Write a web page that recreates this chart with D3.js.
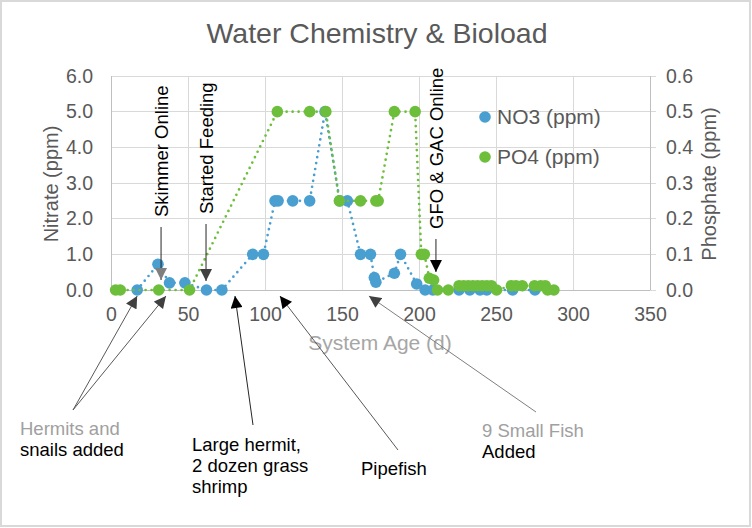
<!DOCTYPE html>
<html><head><meta charset="utf-8">
<script src="https://cdn.jsdelivr.net/npm/d3@7"></script>
<style>body{margin:0;background:#fff}svg{display:block;font-family:"Liberation Sans",Arial,sans-serif}</style>
</head><body>
<script>
// ---- data ----
const no3Days   = [17, 30.5, 38, 48, 62, 72, 92, 99, 106.5, 108.5, 118, 129, 139, 148.5, 153.5, 162, 168.5, 171, 172, 184, 188, 198.5, 204, 209, 226, 233, 239.6, 244, 260.8, 275.3];
const no3Values = [0, 0.72, 0.2, 0.2, 0, 0, 1.0, 1.0, 2.5, 2.5, 2.5, 2.5, 5.0, 2.5, 2.5, 1.0, 1.0, 0.35, 0.22, 0.47, 1.0, 0.17, 0, 0, 0, 0, 0, 0, 0, 0];
const po4Days   = [3, 6, 31, 51, 108, 129, 139.5, 148.3, 162, 172, 173.5, 184, 197.5, 201.5, 203.5, 206.7, 209.5, 212, 219, 226, 229, 232, 235, 238, 241, 244, 247, 250.4, 260, 263, 267, 275, 279, 282, 283.5, 287.6];
const po4Values = [0, 0, 0, 0, 0.5, 0.5, 0.5, 0.25, 0.25, 0.25, 0.25, 0.5, 0.5, 0.1, 0.1, 0.033, 0.028, 0, 0, 0.012, 0.012, 0.012, 0.012, 0.012, 0.012, 0.012, 0.012, 0, 0.012, 0.012, 0.012, 0.012, 0.012, 0.012, 0, 0];
const xTicks = [0, 50, 100, 150, 200, 250, 300, 350];
const nitrateTicks = [0, 1, 2, 3, 4, 5, 6];
const phosphateTicks = [0, 0.1, 0.2, 0.3, 0.4, 0.5, 0.6];
const seriesNames = ["NO3 (ppm)", "PO4 (ppm)"];
const titleText = "Water Chemistry & Bioload";
const xTitle = "System Age (d)", yLeftTitle = "Nitrate (ppm)", yRightTitle = "Phosphate (ppm)";
const topEventLabels = ["Skimmer Online", "Started Feeding", "GFO & GAC Online"];
const topEventDays = [32.5, 61.7, 211];
const bottomEventLabels = [["Hermits and", "snails added"], ["Large hermit,", "2 dozen grass", "shrimp"], ["Pipefish"], ["9 Small Fish", "Added"]];
const bottomEventDays = [[17, 35.7], [80.5], [109.7], [167.5]];

// ---- layout ----
const W = 752, H = 528;
const blue = "#4A9FD1", green = "#6DBF3B", grid = "#d9d9d9", txt = "#595959";
const svg = d3.select("body").append("svg").attr("width", W).attr("height", H);
svg.append("rect").attr("x", 1).attr("y", 1).attr("width", W - 3).attr("height", H - 3)
  .attr("fill", "#fff").attr("stroke", "#d9d9d9").attr("stroke-width", 2);

const x = d3.scaleLinear().domain([0, 350]).range([111, 650]);
const yL = d3.scaleLinear().domain([0, 6]).range([290, 76]);
const yR = d3.scaleLinear().domain([0, 0.6]).range([290, 76]);

const defs = svg.append("defs");
function mk(id, color) {
  defs.append("marker").attr("id", id).attr("viewBox", "0 0 10 10").attr("refX", 10).attr("refY", 5)
    .attr("markerWidth", 13).attr("markerHeight", 12).attr("markerUnits", "userSpaceOnUse").attr("orient", "auto")
    .append("path").attr("d", "M0,0L10,5L0,10z").attr("fill", color);
}
mk("ahBlack", "#000"); mk("ahGray", "#7f7f7f"); mk("ahDark", "#404040");

// gridlines
svg.append("g").selectAll("line").data(nitrateTicks).join("line")
  .attr("x1", 111).attr("x2", 656).attr("y1", d => yL(d)).attr("y2", d => yL(d))
  .attr("stroke", grid).attr("stroke-width", 1).attr("shape-rendering", "crispEdges");
svg.append("g").selectAll("line").data(xTicks).join("line")
  .attr("x1", d => x(d)).attr("x2", d => x(d)).attr("y1", 76).attr("y2", 290)
  .attr("stroke", grid).attr("stroke-width", 1).attr("shape-rendering", "crispEdges");
svg.append("line").attr("x1", 111).attr("x2", 111).attr("y1", 76).attr("y2", 290).attr("stroke", "#bfbfbf").attr("shape-rendering", "crispEdges");
svg.append("line").attr("x1", 650).attr("x2", 650).attr("y1", 76).attr("y2", 290).attr("stroke", "#bfbfbf").attr("shape-rendering", "crispEdges");
svg.append("line").attr("x1", 111).attr("x2", 650).attr("y1", 290).attr("y2", 290).attr("stroke", "#bfbfbf").attr("shape-rendering", "crispEdges");

// axes
function styleAxis(g) { g.select(".domain").remove(); g.selectAll("line").remove();
  g.selectAll("text").attr("fill", txt).attr("font-size", 19.5).attr("font-family", '"Liberation Sans",Arial,sans-serif'); }
svg.append("g").attr("transform", "translate(111,0)")
  .call(d3.axisLeft(yL).tickValues(nitrateTicks).tickSize(0).tickPadding(18).tickFormat(d3.format(".1f"))).call(styleAxis);
svg.append("g").attr("transform", "translate(650,0)")
  .call(d3.axisRight(yR).tickValues(phosphateTicks).tickSize(0).tickPadding(16).tickFormat(d3.format(".1f"))).call(styleAxis);
svg.append("g").attr("transform", "translate(0,290)")
  .call(d3.axisBottom(x).tickValues(xTicks).tickSize(0).tickPadding(17).tickFormat(d3.format("d"))).call(styleAxis);

// titles
svg.append("text").attr("x", 377).attr("y", 43).attr("text-anchor", "middle").attr("font-size", 28.5).attr("fill", txt).text(titleText);
svg.append("text").attr("x", 380).attr("y", 350).attr("text-anchor", "middle").attr("font-size", 21).attr("fill", "#a6a6a6").text(xTitle);
svg.append("text").attr("transform", "translate(57.5,184) rotate(-90)").attr("text-anchor", "middle").attr("font-size", 20).attr("fill", txt).text(yLeftTitle);
svg.append("text").attr("transform", "translate(716,184) rotate(-90)").attr("text-anchor", "middle").attr("font-size", 20).attr("fill", txt).text(yRightTitle);

// series
const no3 = no3Days.map((d, i) => [d, no3Values[i]]);
const po4 = po4Days.map((d, i) => [d, po4Values[i]]);
function drawLine(data, y, color) {
  svg.append("path").datum(data).attr("fill", "none").attr("stroke", color).attr("stroke-width", 2.7)
    .attr("stroke-linecap", "round").attr("stroke-dasharray", "0,6")
    .attr("d", d3.line().x(d => x(d[0])).y(d => y(d[1])));
}
function drawPts(data, y, color) {
  svg.append("g").selectAll("circle").data(data).join("circle")
    .attr("cx", d => x(d[0])).attr("cy", d => y(d[1])).attr("r", 5.8).attr("fill", color);
}
drawLine(no3, yL, blue); drawPts(no3, yL, blue);
drawLine(po4, yR, green); drawPts(po4, yR, green);

// legend
[blue, green].forEach((c, i) => {
  svg.append("circle").attr("cx", 485).attr("cy", 117 + i * 40).attr("r", 5.8).attr("fill", c);
  svg.append("text").attr("x", 497).attr("y", 124 + i * 40).attr("font-size", 21).attr("fill", txt).text(seriesNames[i]);
});

// top annotations (rotated)
const topStartY = [217, 214, 229], topTipY = [280, 281, 272], topHead = ["ahGray", "ahDark", "ahBlack"];
topEventLabels.forEach((t, i) => {
  const ax = x(topEventDays[i]);
  svg.append("line").attr("x1", ax).attr("x2", ax).attr("y1", topStartY[i] + 10).attr("y2", topTipY[i])
    .attr("stroke", "#262626").attr("stroke-width", 1).attr("marker-end", `url(#${topHead[i]})`);
  svg.append("text").attr("transform", `translate(${ax + 6.8},${topStartY[i]}) rotate(-90)`)
    .attr("font-size", 18.5).attr("fill", "#000").text(t);
});

// bottom annotations
const bottomPos = [[20, 435], [192, 451], [361, 475], [482, 437]];
const bottomFrom = [[73, 410], [253, 425], [398, 450], [536, 412]];
const bottomColors = [["#a0a0a0", "#000"], ["#000", "#000", "#000"], ["#000"], ["#a0a0a0", "#000"]];
const bottomLine = ["#595959", "#262626", "#595959", "#7f7f7f"];
const bottomHead = ["ahDark", "ahBlack", "ahBlack", "ahDark"];
bottomEventLabels.forEach((lines, i) => {
  bottomEventDays[i].forEach(d => {
    svg.append("line").attr("x1", bottomFrom[i][0]).attr("y1", bottomFrom[i][1]).attr("x2", x(d)).attr("y2", 296)
      .attr("stroke", bottomLine[i]).attr("stroke-width", 1).attr("marker-end", `url(#${bottomHead[i]})`);
  });
  const t = svg.append("text").attr("x", bottomPos[i][0]).attr("y", bottomPos[i][1]).attr("font-size", 18.5);
  lines.forEach((l, j) => t.append("tspan").attr("x", bottomPos[i][0]).attr("dy", j ? 21 : 0).attr("fill", bottomColors[i][j]).text(l));
});
</script>
</body></html>
